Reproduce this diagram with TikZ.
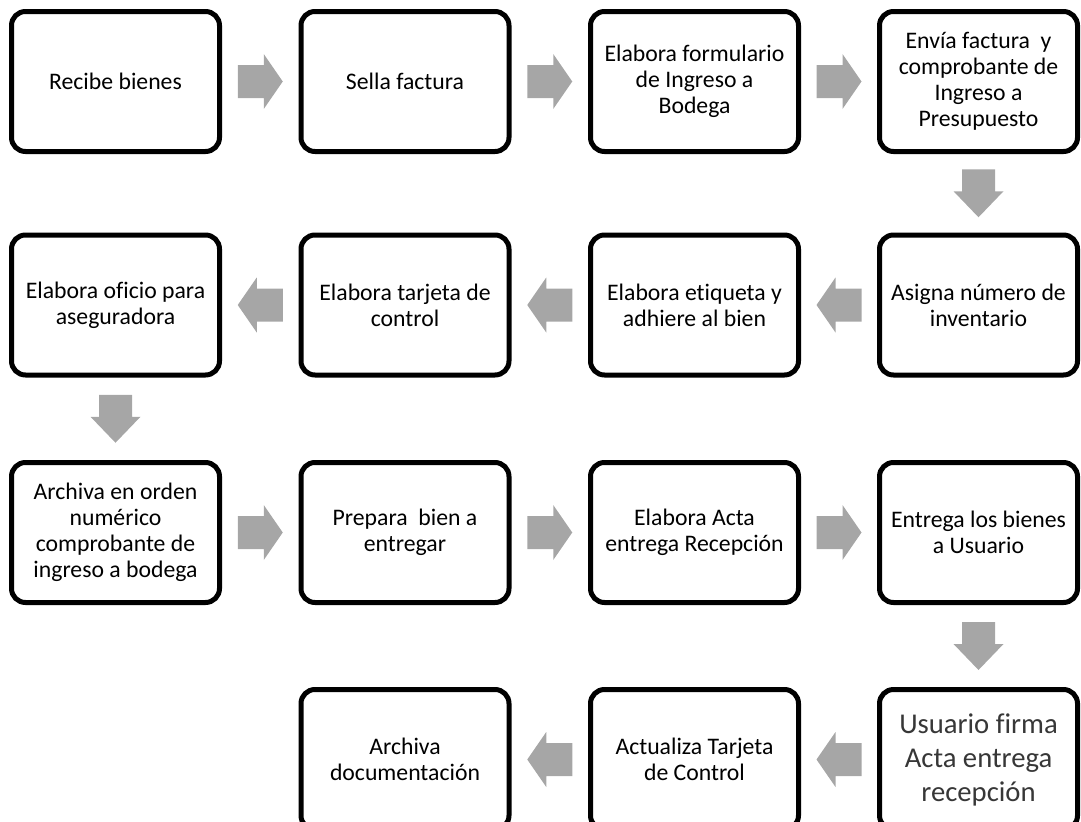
\documentclass[tikz,border=0pt]{standalone}
\usepackage{fontspec}
\setmainfont{Carlito}[Ligatures=NoCommon]
\usetikzlibrary{calc}
\definecolor{arrowgray}{RGB}{166,166,166}
\definecolor{darktext}{RGB}{55,55,55}
\tikzset{
  procbox/.style={draw=black, line width=3.75pt, rounded corners=10.5pt, fill=white,
    minimum width=156pt, minimum height=105pt, align=center, inner sep=2pt,
    font=\fontsize{17.8pt}{19.5pt}\selectfont},
  narrowbox/.style={procbox, minimum width=148.5pt},
  bigtext/.style={font=\fontsize{21.5pt}{25.5pt}\selectfont, text=darktext},
  blockarrow/.style={fill=arrowgray, draw=none}
}
\newcommand{\blkR}[2]{\fill[blockarrow] ($(#1.east)!0.5!(#2.west)$) ++(-22.5,-16.5) -- ++(26,0) -- ++(0,-11) -- ++(19,27.5) -- ++(-19,27.5) -- ++(0,-11) -- ++(-26,0) -- cycle;}
\newcommand{\blkL}[2]{\fill[blockarrow] ($(#1.west)!0.5!(#2.east)$) ++(22.5,-16.5) -- ++(-26,0) -- ++(0,-11) -- ++(-19,27.5) -- ++(19,27.5) -- ++(0,-11) -- ++(26,0) -- cycle;}
\newcommand{\blkD}[2]{\fill[blockarrow] ($(#1.south)!0.5!(#2.north)$) ++(-16.5,-24) -- ++(33,0) -- ++(0,22) -- ++(8.5,0) -- ++(-25,26) -- ++(-25,-26) -- ++(8.5,0) -- cycle;}
\begin{document}
\begin{tikzpicture}[x=0.75pt, y=-0.75pt]
\useasboundingbox (0,0) rectangle (1081,821);
\clip (0,0) rectangle (1081,821);
% row 1
\node[procbox] (n1) at (115.5,81.5) {Recibe bienes};
\node[procbox] (n2) at (405,81.5) {Sella factura};
\node[procbox] (n3) at (694.5,81.5) {Elabora formulario\\de Ingreso a\\Bodega};
\node[narrowbox] (n4) at (978.5,81.5) {Envía factura\ \ y\\comprobante de\\Ingreso a\\Presupuesto};
% row 2
\node[narrowbox] (n5) at (978.5,305) {Asigna número de\\inventario};
\node[procbox] (n6) at (694.5,305) {Elabora etiqueta y\\adhiere al bien};
\node[procbox] (n7) at (405,305) {Elabora tarjeta de\\control};
\node[procbox] (n8) at (115.5,305) {Elabora oficio para\\aseguradora};
% row 3
\node[procbox] (n9) at (115.5,532.5) {Archiva en orden\\numérico\\comprobante de\\ingreso a bodega};
\node[procbox] (n10) at (405,532.5) {Prepara\ \ bien a\\entregar};
\node[procbox] (n11) at (694.5,532.5) {Elabora Acta\\entrega Recepción};
\node[narrowbox] (n12) at (978.5,532.5) {Entrega los bienes\\a Usuario};
% row 4
\node[narrowbox, bigtext] (n13) at (978.5,759.5) {Usuario firma\\Acta entrega\\recepción};
\node[procbox] (n14) at (694.5,759.5) {Actualiza Tarjeta\\de Control};
\node[procbox] (n15) at (405,759.5) {Archiva\\documentación};
% arrows
\blkR{n1}{n2}
\blkR{n2}{n3}
\blkR{n3}{n4}
\blkD{n4}{n5}
\blkL{n5}{n6}
\blkL{n6}{n7}
\blkL{n7}{n8}
\blkD{n8}{n9}
\blkR{n9}{n10}
\blkR{n10}{n11}
\blkR{n11}{n12}
\blkD{n12}{n13}
\blkL{n13}{n14}
\blkL{n14}{n15}
\end{tikzpicture}
\end{document}
